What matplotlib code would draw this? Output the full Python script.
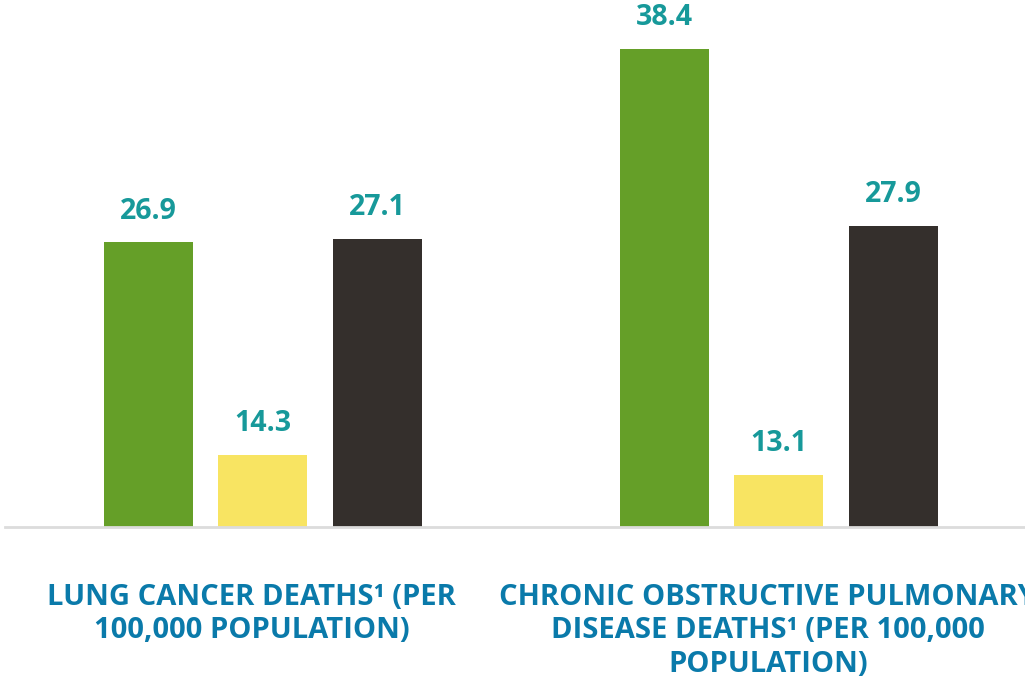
import numpy as np
import matplotlib.pyplot as plt

plt.rcParams.update({
    "font.family": ["Open Sans", "DejaVu Sans"],
    "font.weight": "bold",
})

categories = ["LUNG CANCER DEATHS\u00b9 (PER\n100,000 POPULATION)",
              "CHRONIC OBSTRUCTIVE PULMONARY\nDISEASE DEATHS\u00b9 (PER 100,000\nPOPULATION)"]
series_a = [26.9, 38.4]
series_b = [14.3, 13.1]
series_c = [27.1, 27.9]
colors = ["#659f28", "#f8e462", "#342f2c"]

fig = plt.figure(figsize=(10.25, 6.87), dpi=100)
ax = fig.add_axes([5 / 1025, 1 - 527 / 687, 1 - 5 / 1025, 527 / 687])

x = np.arange(len(categories))
width = 0.1725
step = 0.222

for i, (vals, c) in enumerate(zip([series_a, series_b, series_c], colors)):
    bars = ax.bar(x + (i - 1) * step, vals, width=width, color=c, zorder=2)
    for b, v in zip(bars, vals):
        ax.annotate(f"{v:.1f}", (b.get_x() + b.get_width() / 2, v),
                    xytext=(0, 12), textcoords="offset points",
                    ha="center", va="bottom", fontsize=20.5,
                    fontweight="bold", color="#17999a")

ax.set_ylim(10, 41.3)
ax.set_xlim(-0.5, 1.477)
for s in ["top", "right", "left"]:
    ax.spines[s].set_visible(False)
ax.spines["bottom"].set_color("#dcdcdc")
ax.spines["bottom"].set_linewidth(2)
ax.set_yticks([])
ax.set_xticks([])

# category labels; the long one runs off the right edge as in the source
for xi, lab in zip(x, categories):
    ax.annotate(lab, (xi, 0), xycoords=("data", "axes fraction"),
                xytext=(-8, -40), textcoords="offset points",
                ha="center", va="top", fontsize=21, fontweight="bold",
                color="#0a7aaa", linespacing=1.22, annotation_clip=False)

fig.savefig("out.png", dpi=100)
